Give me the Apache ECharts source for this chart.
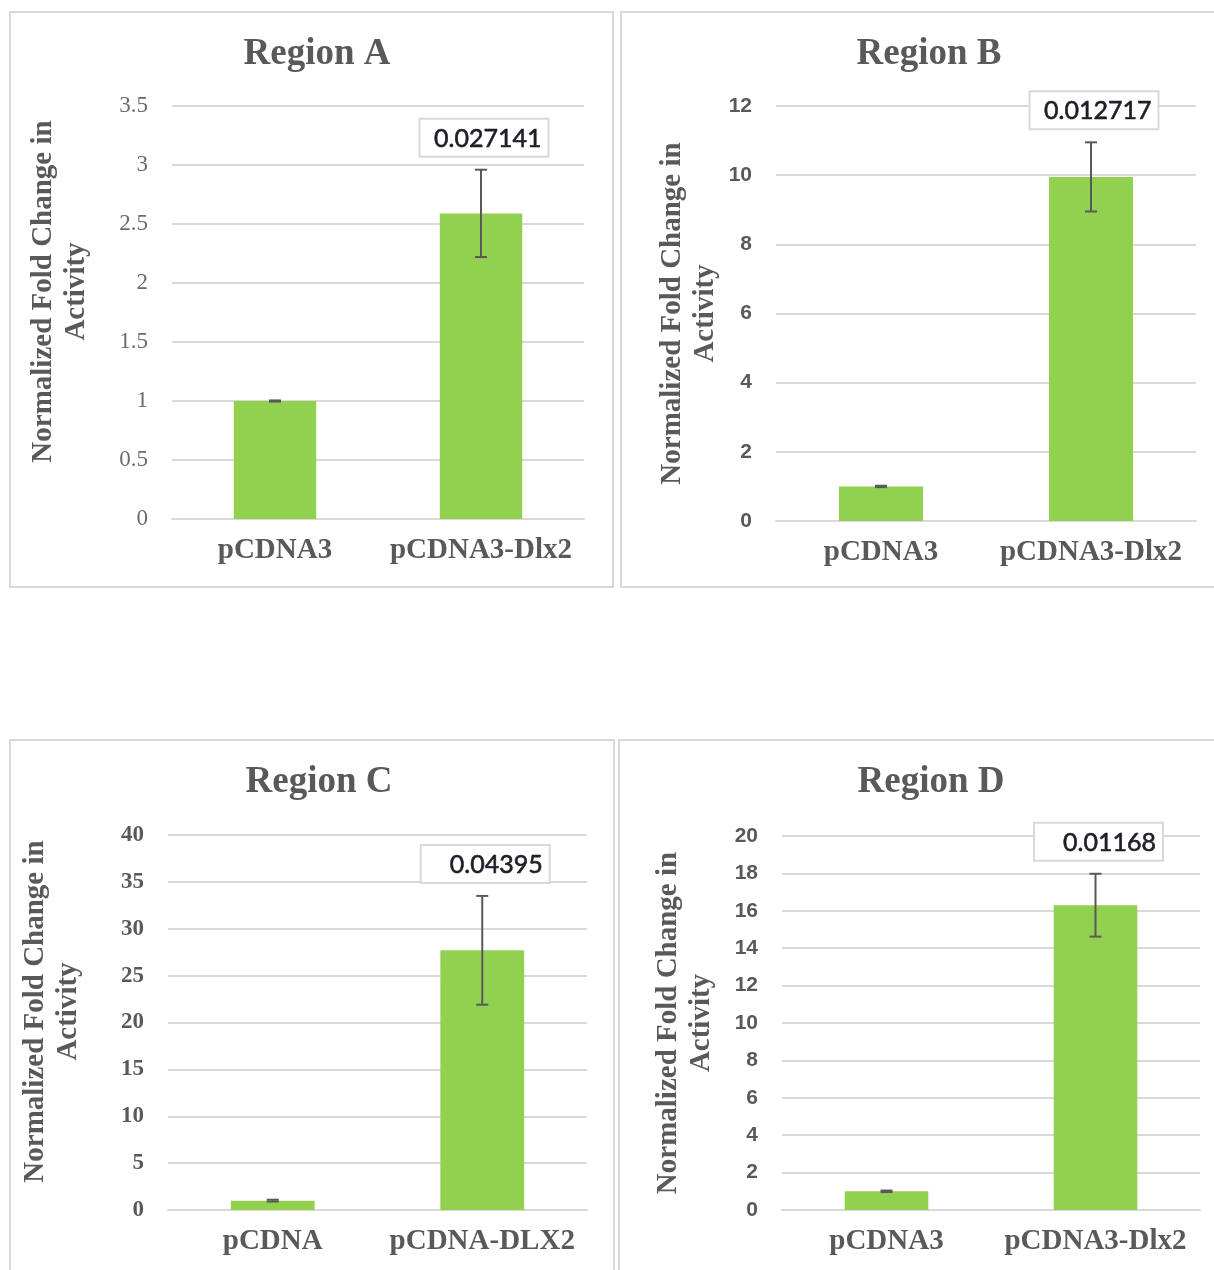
<!DOCTYPE html>
<html>
<head>
<meta charset="utf-8">
<title>Normalized Fold Change in Activity</title>
<script src="https://cdn.jsdelivr.net/npm/echarts@6/dist/echarts.min.js"></script>
<style>
  html, body { margin: 0; padding: 0; background: #ffffff; }
  #chart { width: 1214px; height: 1270px; }
</style>
</head>
<body>
<div id="chart"></div>
<script>
// Panel titles
const panelTitles = ['Region A', 'Region B', 'Region C', 'Region D'];

// Category labels per panel
const categoriesA = ['pCDNA3', 'pCDNA3-Dlx2'];
const categoriesB = ['pCDNA3', 'pCDNA3-Dlx2'];
const categoriesC = ['pCDNA', 'pCDNA-DLX2'];
const categoriesD = ['pCDNA3', 'pCDNA3-Dlx2'];

// Mean normalized fold change
const valuesA = [1, 2.59];
const valuesB = [1, 9.95];
const valuesC = [1, 27.7];
const valuesD = [1, 16.3];

// Error (+/-) for each bar
const errorsA = [0.005, 0.37];
const errorsB = [0.02, 1.0];
const errorsC = [0.1, 5.8];
const errorsD = [0.04, 1.68];

// p-values shown above the treated bar
const pValuesA = ['', '0.027141'];
const pValuesB = ['', '0.012717'];
const pValuesC = ['', '0.04395'];
const pValuesD = ['', '0.01168'];

// Y-axis scale per panel
const yMaxA = 3.5, yStepA = 0.5;
const yMaxB = 12, yStepB = 2;
const yMaxC = 40, yStepC = 5;
const yMaxD = 20, yStepD = 2;

const GRAY = '#595959';
const GRID_GRAY = '#d9d9d9';
const BAR_GREEN = '#92d050';
const SERIF = '"Liberation Serif", "DejaVu Serif", serif';
const SANS = 'Lato, "Open Sans", "Liberation Sans", sans-serif';
const SANS_BOLD = '"Liberation Sans", "DejaVu Sans", sans-serif';

const panels = [
  { title: panelTitles[0], cats: categoriesA, vals: valuesA, errs: errorsA, ps: pValuesA, max: yMaxA, step: yStepA,
    grid: { left: 172, top: 106, width: 412, height: 413 }, titleX: 312, titleTop: 31,
    tickFont: { fontFamily: SERIF, fontWeight: 'normal', fontSize: 23, color: '#6b6b6b' }, nameGap: 79, nameShift: 42 },
  { title: panelTitles[1], cats: categoriesB, vals: valuesB, errs: errorsB, ps: pValuesB, max: yMaxB, step: yStepB,
    grid: { left: 776, top: 106, width: 420, height: 415 }, titleX: 924, titleTop: 31,
    tickFont: { fontFamily: SANS_BOLD, fontWeight: 'bold', fontSize: 21, color: GRAY }, nameGap: 54, nameShift: 0 },
  { title: panelTitles[2], cats: categoriesC, vals: valuesC, errs: errorsC, ps: pValuesC, max: yMaxC, step: yStepC,
    grid: { left: 168, top: 835, width: 419, height: 375 }, titleX: 314, titleTop: 759,
    tickFont: { fontFamily: SERIF, fontWeight: 'bold', fontSize: 23, color: GRAY }, nameGap: 83, nameShift: 22 },
  { title: panelTitles[3], cats: categoriesD, vals: valuesD, errs: errorsD, ps: pValuesD, max: yMaxD, step: yStepD,
    grid: { left: 782, top: 836, width: 418, height: 374 }, titleX: 926, titleTop: 759,
    tickFont: { fontFamily: SANS_BOLD, fontWeight: 'bold', fontSize: 21, color: GRAY }, nameGap: 64, nameShift: 0 }
];

const chart = echarts.init(document.getElementById('chart'), null, { renderer: 'canvas' });

const option = {
  backgroundColor: '#ffffff',
  animation: false,
  title: panels.map(p => ({
    text: p.title,
    left: p.titleX,
    top: p.titleTop,
    textAlign: 'center',
    textStyle: { fontFamily: SERIF, fontWeight: 'bold', fontSize: 37, color: GRAY }
  })),
  grid: panels.map(p => Object.assign({ containLabel: false }, p.grid)),
  xAxis: panels.map((p, i) => ({
    type: 'category',
    gridIndex: i,
    data: p.cats,
    axisTick: { show: false },
    axisLine: { show: true, lineStyle: { color: GRID_GRAY, width: 2 } },
    axisLabel: { interval: 0, margin: 17, color: GRAY, fontFamily: SERIF, fontWeight: 'bold', fontSize: 29 }
  })),
  yAxis: panels.map((p, i) => ({
    type: 'value',
    gridIndex: i,
    min: 0,
    max: p.max,
    interval: p.step,
    name: 'Normalized Fold Change in\nActivity',
    nameLocation: 'middle',
    nameRotate: 90,
    nameGap: p.nameGap,
    nameTextStyle: {
      fontFamily: SERIF, fontWeight: 'bold', fontSize: 29, lineHeight: 33, color: GRAY,
      padding: [0, 0, 0, p.nameShift]
    },
    axisLine: { show: false },
    axisTick: { show: false },
    splitLine: { lineStyle: { color: GRID_GRAY, width: 2 } },
    axisLabel: Object.assign({ margin: 24 }, p.tickFont)
  })),
  series: []
};

panels.forEach((p, i) => {
  option.series.push({
    type: 'bar',
    xAxisIndex: i,
    yAxisIndex: i,
    data: p.vals,
    barWidth: '40%',
    itemStyle: { color: BAR_GREEN },
    z: 2
  });
  option.series.push({
    type: 'custom',
    xAxisIndex: i,
    yAxisIndex: i,
    z: 5,
    data: p.vals.map((v, k) => [k, v, p.errs[k]]),
    renderItem: function (params, api) {
      const k = api.value(0);
      const v = api.value(1);
      const e = api.value(2);
      const top = api.coord([k, v + e]);
      const bot = api.coord([k, v - e]);
      const cap = 6;
      const lineStyle = { stroke: GRAY, lineWidth: 2 };
      const children = [
        { type: 'line', shape: { x1: top[0], y1: top[1], x2: bot[0], y2: bot[1] }, style: lineStyle },
        { type: 'line', shape: { x1: top[0] - cap, y1: top[1], x2: top[0] + cap, y2: top[1] }, style: lineStyle },
        { type: 'line', shape: { x1: bot[0] - cap, y1: bot[1], x2: bot[0] + cap, y2: bot[1] }, style: lineStyle }
      ];
      const label = p.ps[k];
      if (label) {
        const bw = 129, bh = 38;
        const bx = top[0] - bw / 2 + 3;
        const by = top[1] - 13 - bh;
        children.push({
          type: 'rect',
          shape: { x: bx, y: by, width: bw, height: bh },
          style: { fill: '#ffffff', stroke: GRID_GRAY, lineWidth: 2 }
        });
        children.push({
          type: 'text',
          x: bx + bw - 7,
          y: by + bh / 2 + 1,
          style: {
            text: label, align: 'right', verticalAlign: 'middle',
            fontFamily: SANS, fontWeight: 'normal', fontSize: 25, fill: '#1e1e28',
            stroke: '#1e1e28', lineWidth: 0.6
          }
        });
      }
      return { type: 'group', children: children };
    }
  });
});

// Panel frames
option.graphic = [
  { type: 'rect', shape: { x: 10, y: 12, width: 603, height: 575 } },
  { type: 'rect', shape: { x: 621, y: 12, width: 600, height: 575 } },
  { type: 'rect', shape: { x: 10, y: 740, width: 604, height: 540 } },
  { type: 'rect', shape: { x: 619, y: 740, width: 600, height: 540 } }
].map(r => Object.assign(r, { silent: true, z: -10, style: { fill: 'none', stroke: GRID_GRAY, lineWidth: 2 } }));

chart.setOption(option);
</script>
</body>
</html>
